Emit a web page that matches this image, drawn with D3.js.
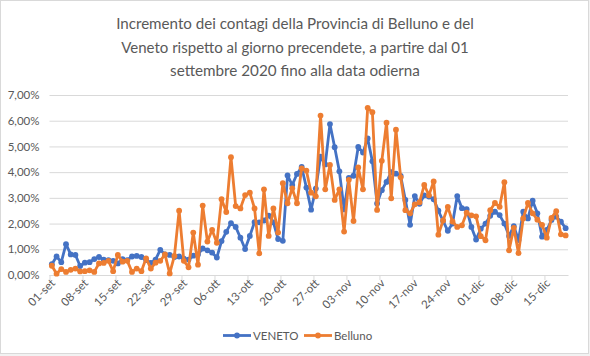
<!DOCTYPE html>
<html>
<head>
<meta charset="utf-8">
<script src="https://cdn.jsdelivr.net/npm/d3@7"></script>
<style>
  html, body { margin: 0; padding: 0; background: #ffffff; }
  svg { display: block; }
  text { font-family: Lato, "Open Sans", "Noto Sans", sans-serif; fill: #595959; }
</style>
</head>
<body>
<svg id="chart" width="590" height="356"></svg>
<script>
// ---------- DATA ----------
const titleLines = [
  "Incremento dei contagi della Provincia di Belluno e del",
  "Veneto rispetto al giorno precendete, a partire dal 01",
  "settembre 2020 fino alla data odierna"
];
const startDate = "2020-09-01";
const seriesNames = ["VENETO", "Belluno"];
// daily increment, percent (01-set ... 19-dic)
const veneto = [
  0.42,0.72,0.50,1.20,0.80,0.78,0.35,0.48,0.50,0.62,
  0.70,0.60,0.58,0.55,0.45,0.62,0.58,0.72,0.74,0.70,
  0.58,0.47,0.60,0.98,0.80,0.78,0.70,0.72,0.64,0.60,
  0.75,0.80,1.03,0.96,0.87,0.68,1.32,1.68,2.02,1.87,
  1.45,1.01,1.52,2.06,2.05,2.12,2.31,2.05,1.40,1.33,
  3.87,3.50,3.93,4.20,3.40,2.54,3.36,4.60,4.30,5.87,
  4.97,4.03,2.55,3.78,3.86,4.98,4.76,5.31,4.42,2.78,
  3.30,3.62,4.00,3.94,3.85,2.92,1.95,3.07,2.77,3.10,
  3.05,2.95,2.50,2.10,1.72,2.00,3.07,2.60,2.56,1.87,
  1.38,1.80,2.00,2.30,2.46,2.33,2.00,1.52,1.90,1.36,
  2.46,2.20,2.89,2.40,1.49,1.75,2.14,2.27,2.07,1.82
];
const belluno = [
  0.36,0.05,0.23,0.12,0.20,0.25,0.14,0.15,0.18,0.12,
  0.45,0.47,0.55,0.15,0.78,0.52,0.55,0.12,0.25,0.15,
  0.65,0.25,0.48,0.55,0.80,0.06,0.74,2.50,0.55,0.30,
  1.65,0.40,2.70,1.30,1.75,1.25,2.95,2.45,4.58,2.68,
  2.59,3.11,3.20,2.59,0.84,3.33,1.52,2.59,1.65,3.57,
  2.79,3.37,2.79,4.15,4.06,3.20,3.06,6.20,3.33,4.28,
  2.92,3.33,1.69,3.70,2.10,4.18,3.33,6.50,6.33,2.53,
  4.44,5.92,2.98,5.65,3.80,2.52,2.40,2.75,2.83,3.50,
  3.10,3.64,1.57,2.12,2.65,2.08,1.87,1.93,2.42,2.32,
  2.28,1.51,1.35,2.52,2.80,2.65,3.61,0.96,1.83,0.85,
  2.20,2.80,2.40,2.15,1.95,1.45,2.22,2.48,1.58,1.54
];
const xTickLabels = ["01-set","08-set","15-set","22-set","29-set","06-ott","13-ott",
  "20-ott","27-ott","03-nov","10-nov","17-nov","24-nov","01-dic","08-dic","15-dic"];
const yTicks = [0,0.01,0.02,0.03,0.04,0.05,0.06,0.07];
const colors = ["#4472C4", "#ED7D31"];

// ---------- CHART ----------
const svg = d3.select("#chart");
const W = 590, H = 356;
const plot = { left: 49.5, right: 568, top: 95, bottom: 275 };

svg.append("rect").attr("x", 0).attr("y", 0).attr("width", W).attr("height", H).attr("fill", "#f2f2f2");
svg.append("rect").attr("x", 0.5).attr("y", 0.5).attr("width", 588).attr("height", 353)
  .attr("fill", "#ffffff").attr("stroke", "#d9d9d9").attr("stroke-width", 1);

const parse = d3.timeParse("%Y-%m-%d");
const d0 = parse(startDate);
const n = veneto.length;
const dates = d3.range(n).map(i => d3.timeDay.offset(d0, i));

const x = d3.scaleLinear().domain([-0.5, n - 0.5]).range([plot.left, plot.right]);
const y = d3.scaleLinear().domain([0, 0.07]).range([plot.bottom, plot.top]);

const locale = d3.formatLocale({ decimal: ",", thousands: ".", grouping: [3], currency: ["", "€"] });
const fmt = locale.format(".2%");

// gridlines + y labels
const yAxis = d3.axisLeft(y).tickValues(yTicks).tickFormat(fmt)
  .tickSize(-(plot.right - plot.left)).tickPadding(10);
const gy = svg.append("g").attr("transform", `translate(${plot.left},0)`).call(yAxis);
gy.select(".domain").remove();
gy.selectAll(".tick line").attr("stroke", "#d9d9d9").attr("stroke-width", 1);
gy.selectAll(".tick text").attr("font-size", 11.5).attr("fill", "#595959")
  .style("font-family", "Lato, 'Open Sans', sans-serif");

// x axis
const tickIdx = xTickLabels.map((_, k) => k * 7);
const xAxis = d3.axisBottom(x).tickValues(tickIdx.map(i => i - 0.5))
  .tickFormat((d, k) => xTickLabels[k]).tickSize(5).tickSizeOuter(0);
const gx = svg.append("g").attr("transform", `translate(0,${plot.bottom})`).call(xAxis);
gx.select(".domain").attr("stroke", "#d9d9d9");
gx.selectAll(".tick line").attr("stroke", "#d9d9d9");
gx.selectAll(".tick text")
  .attr("font-size", 11.5).attr("fill", "#595959")
  .style("font-family", "Lato, 'Open Sans', sans-serif")
  .attr("text-anchor", "end")
  .attr("transform", "translate(3,6) rotate(-45)")
  .attr("x", 0).attr("y", 0).attr("dy", "0.35em");

// series
const series = [veneto, belluno];
const line = d3.line().x((d, i) => x(i)).y(d => y(d / 100));
series.forEach((vals, s) => {
  const g = svg.append("g");
  g.append("path").datum(vals).attr("d", line).attr("fill", "none")
    .attr("stroke", colors[s]).attr("stroke-width", 2.8).attr("stroke-linejoin", "round");
  g.selectAll("circle").data(vals).join("circle")
    .attr("cx", (d, i) => x(i)).attr("cy", d => y(d / 100)).attr("r", 2.9)
    .attr("fill", colors[s]);
});

// title
const titleWidths = [358, 348, 250];
const titleY = [29, 52.7, 76.4];
titleLines.forEach((t, i) => {
  const el = svg.append("text").attr("x", 295).attr("y", titleY[i])
    .attr("text-anchor", "middle").attr("font-size", 18).attr("fill", "#595959").text(t);
  const w = el.node().getComputedTextLength();
  el.attr("font-size", 18 * titleWidths[i] / w);
});

// legend
const legendX = [223, 304];
const legend = svg.append("g");
seriesNames.forEach((name, s) => {
  const lx = legendX[s], ly = 335.5;
  legend.append("line").attr("x1", lx).attr("x2", lx + 28).attr("y1", ly).attr("y2", ly)
    .attr("stroke", colors[s]).attr("stroke-width", 2.8);
  legend.append("circle").attr("cx", lx + 14).attr("cy", ly).attr("r", 2.9).attr("fill", colors[s]);
  legend.append("text").attr("x", lx + 30).attr("y", ly).attr("dy", "0.35em")
    .attr("font-size", 11.5).attr("fill", "#595959").text(name);
});
</script>
</body>
</html>
